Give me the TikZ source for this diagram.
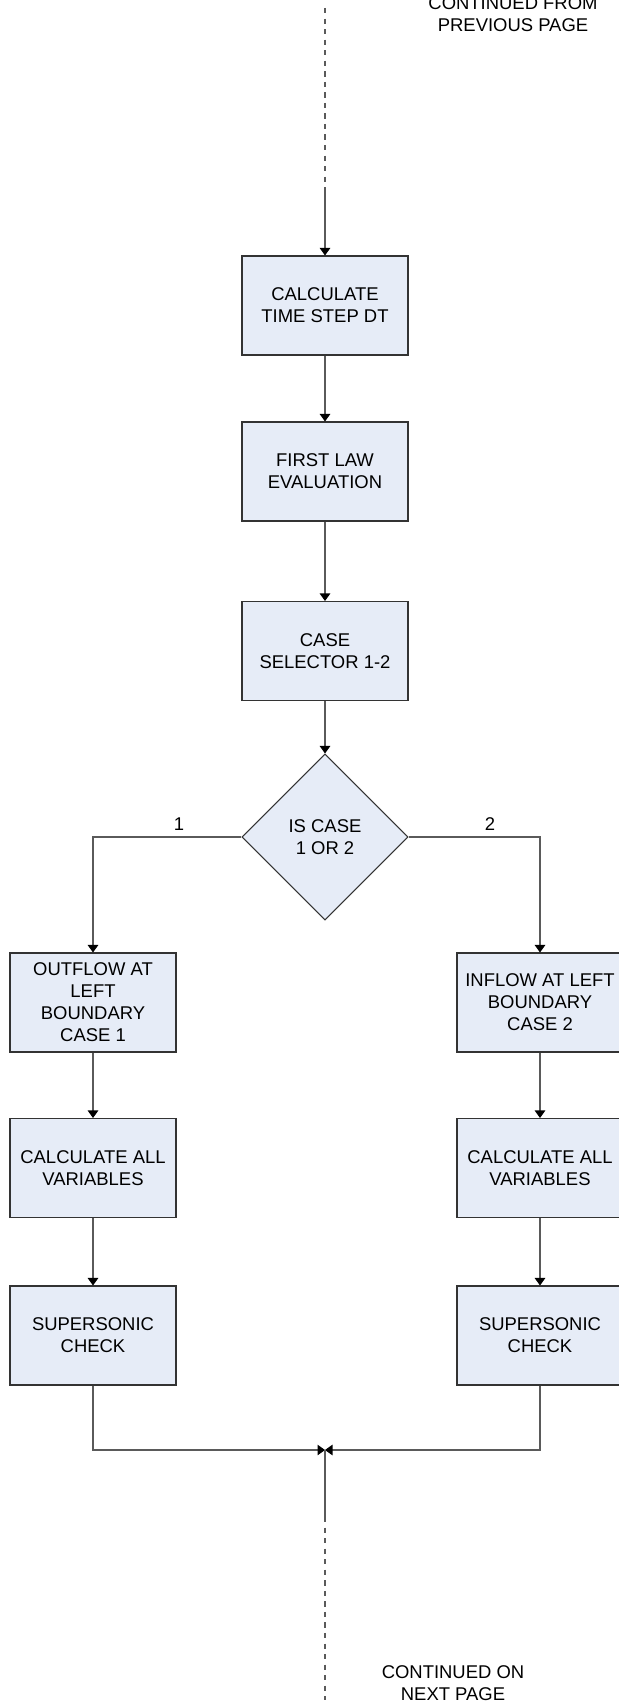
\documentclass[tikz,border=0pt]{standalone}
\usepackage{fontspec}
\setmainfont{Liberation Sans}
\usetikzlibrary{arrows.meta, shapes.geometric, positioning}
\definecolor{boxfill}{HTML}{E6ECF7}
\definecolor{boxline}{HTML}{333333}
\definecolor{flowgray}{HTML}{5A5A5A}
\tikzset{ x=0.02cm, y=-0.02cm, >={Triangle[length=1.5mm, width=2.1mm, black]},
  procbox/.style={draw=boxline, fill=boxfill, line width=0.6pt, minimum width=3.32cm, minimum height=1.98cm, align=center, inner sep=2pt},
  decision/.style={draw=boxline, fill=boxfill, line width=0.6pt, diamond, minimum size=3.32cm, inner sep=0pt, align=center},
  flowline/.style={draw=flowgray, line width=0.6pt},
  txt/.style={font=\fontsize{10.5}{12.5}\selectfont} }
\def\colL{93}
\def\colM{325}
\def\colR{540}
\begin{document}
\begin{tikzpicture}[txt]
\useasboundingbox (0,0) rectangle (618,1702);
% main column
\node[procbox] (calcdt) at (\colM,305.5) {CALCULATE\\TIME STEP DT};
\node[procbox] (firstlaw) at (\colM,471.5) {FIRST LAW\\EVALUATION};
\node[procbox] (selector) at (\colM,651) {CASE\\SELECTOR 1-2};
\node[decision] (iscase) at (\colM,837) {IS CASE\\1 OR 2};
% left branch
\node[procbox] (outflow) at (\colL,1002.5) {OUTFLOW AT\\LEFT\\BOUNDARY\\CASE 1};
\node[procbox] (calcleft) at (\colL,1168) {CALCULATE ALL\\VARIABLES};
\node[procbox] (superleft) at (\colL,1335.5) {SUPERSONIC\\CHECK};
% right branch
\node[procbox] (inflow) at (\colR,1002.5) {INFLOW AT LEFT\\BOUNDARY\\CASE 2};
\node[procbox] (calcright) at (\colR,1168) {CALCULATE ALL\\VARIABLES};
\node[procbox] (superright) at (\colR,1335.5) {SUPERSONIC\\CHECK};
% off-page connectors
\node[align=center] (contfrom) at (513,14) {CONTINUED FROM\\PREVIOUS PAGE};
\node[align=center] (conton) at (453,1683) {CONTINUED ON\\NEXT PAGE};
\coordinate (top) at (\colM,8);
\coordinate (topsolid) at (\colM,192);
\coordinate (merge) at (\colM,1450);
\coordinate (botsolid) at (\colM,1517);
\coordinate (bot) at (\colM,1700);
\draw[flowline, dashed] (top) -- (topsolid);
\draw[flowline, ->] (topsolid) -- (calcdt.north);
\draw[flowline, ->] (calcdt) -- (firstlaw);
\draw[flowline, ->] (firstlaw) -- (selector);
\draw[flowline, ->] (selector) -- (iscase);
\draw[flowline, ->] (iscase.west) -| node[pos=0.21, above, black] (lblone) {1} (outflow.north);
\draw[flowline, ->] (iscase.east) -| node[pos=0.31, above, black] (lbltwo) {2} (inflow.north);
\draw[flowline, ->] (outflow) -- (calcleft);
\draw[flowline, ->] (calcleft) -- (superleft);
\draw[flowline, ->] (inflow) -- (calcright);
\draw[flowline, ->] (calcright) -- (superright);
\draw[flowline, ->] (superleft.south) |- (merge);
\draw[flowline, ->] (superright.south) |- (merge);
\draw[flowline] (merge) -- (botsolid);
\draw[flowline, dashed] (botsolid) -- (bot);
\end{tikzpicture}
\end{document}
